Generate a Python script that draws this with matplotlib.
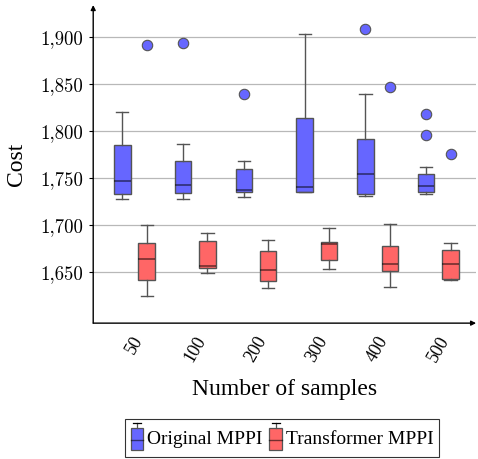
import matplotlib
matplotlib.use("Agg")
import matplotlib.pyplot as plt
from matplotlib.patches import Rectangle
from matplotlib.lines import Line2D
from matplotlib.legend_handler import HandlerBase
from matplotlib.ticker import FuncFormatter

# ---- data -------------------------------------------------------------
samples = ["50", "100", "200", "300", "400", "500"]

orig_whislo = [1728, 1728, 1730.5, 1735, 1731, 1733]
orig_q1 = [1733, 1734, 1735, 1735, 1733.5, 1735]
orig_med = [1747, 1743, 1737.5, 1740.5, 1755, 1742]
orig_q3 = [1785, 1768, 1760, 1814.5, 1792, 1754.5]
orig_whishi = [1820, 1786.5, 1768, 1903.5, 1839.5, 1762]

trans_whislo = [1624.5, 1649.5, 1633.5, 1653, 1634.5, 1642]
trans_q1 = [1642, 1654.5, 1641, 1663.5, 1651, 1643]
trans_med = [1664, 1657, 1652.5, 1680, 1658.5, 1659]
trans_q3 = [1681, 1683, 1672.5, 1682, 1678, 1674]
trans_whishi = [1700.5, 1691.5, 1684.5, 1697.5, 1701, 1681]

# outliers of the original MPPI runs: value, sample-group index, column (0 = left, 1 = right)
orig_outlier_values = [1892, 1893.5, 1839, 1909, 1847, 1818, 1795.5, 1776]
orig_outlier_group = [0, 1, 2, 4, 4, 5, 5, 5]
orig_outlier_column = [1, 0, 0, 0, 1, 0, 0, 1]

# ---- style ------------------------------------------------------------
blue_fill = "#6666ff"
red_fill = "#ff6666"
edge = (0.33, 0.33, 0.33)
serif = ["Liberation Serif", "DejaVu Serif"]

fig = plt.figure(figsize=(4.78, 4.59), dpi=100)
ax = fig.add_axes([0.195, 0.296, 0.801, 0.693])

offset = 0.2
box_w = 0.27
groups = list(range(1, len(samples) + 1))


def stats(lo, q1, med, q3, hi):
    return [dict(whislo=a, q1=b, med=c, q3=d, whishi=e)
            for a, b, c, d, e in zip(lo, q1, med, q3, hi)]


def draw(st, pos, fill):
    ax.bxp(st, positions=pos, widths=box_w, capwidths=0.2,
           patch_artist=True, showfliers=False,
           boxprops=dict(facecolor=fill, edgecolor=edge, linewidth=1.0),
           medianprops=dict(color=(0, 0, 0, 0.55), linewidth=1.2),
           whiskerprops=dict(color=edge, linewidth=1.0),
           capprops=dict(color=edge, linewidth=1.0),
           zorder=3)


draw(stats(orig_whislo, orig_q1, orig_med, orig_q3, orig_whishi),
     [g - offset for g in groups], blue_fill)
draw(stats(trans_whislo, trans_q1, trans_med, trans_q3, trans_whishi),
     [g + offset for g in groups], red_fill)

out_x = [groups[g] + (offset if c else -offset)
         for g, c in zip(orig_outlier_group, orig_outlier_column)]
ax.plot(out_x, orig_outlier_values, linestyle="none", marker="o",
        markersize=7.5, markerfacecolor=blue_fill, markeredgecolor=edge,
        markeredgewidth=0.8, zorder=4)

# ---- axes -------------------------------------------------------------
ax.set_xlim(0.32, 6.62)
ax.set_ylim(1596, 1934)
ax.set_yticks([1650, 1700, 1750, 1800, 1850, 1900])
ax.yaxis.set_major_formatter(FuncFormatter(lambda v, p: f"{int(v):,}"))
ax.set_xticks(groups)
ax.set_xticklabels(samples, rotation=60, family=serif, fontsize=13)
ax.tick_params(axis="x", length=0, pad=7)
ax.tick_params(axis="y", direction="out", length=3, width=0.8,
               labelsize=13.5, labelfontfamily="cmr10", pad=4)

ax.grid(axis="y", color="#b8b8b8", linewidth=0.9)
ax.set_axisbelow(True)
for s in ax.spines.values():
    s.set_visible(False)

# axis lines with arrow heads
arrow = dict(arrowstyle="-|>", color="black", lw=1.0, mutation_scale=7,
             shrinkA=0, shrinkB=0)
ax.annotate("", xy=(1.0, 0), xytext=(0, 0), xycoords="axes fraction",
            arrowprops=arrow, annotation_clip=False)
ax.annotate("", xy=(0, 1.0), xytext=(0, 0), xycoords="axes fraction",
            arrowprops=arrow, annotation_clip=False)

ax.set_xlabel("Number of samples", family=serif, fontsize=17, labelpad=10)
ax.set_ylabel("Cost", family=serif, fontsize=17, labelpad=10)


# ---- legend with small box-plot glyphs --------------------------------
class BoxGlyph(HandlerBase):
    def create_artists(self, legend, orig_handle, xdescent, ydescent,
                       width, height, fontsize, trans):
        fill = orig_handle.get_facecolor()
        cx = width / 2 - xdescent
        cy = height / 2 - ydescent
        bw = width * 0.9
        y0 = cy - fontsize * 0.6
        y1 = cy + fontsize * 0.5
        box = Rectangle((cx - bw / 2, y0), bw, y1 - y0, facecolor=fill,
                        edgecolor=edge, linewidth=0.9, transform=trans)
        med = Line2D([cx - bw / 2, cx + bw / 2], [cy - fontsize * 0.1] * 2,
                     color=(0, 0, 0, 0.55), linewidth=1.0, transform=trans)
        top = cy + fontsize * 0.8
        whisk = Line2D([cx, cx], [y1, top], color=edge, linewidth=0.9,
                       transform=trans)
        cap = Line2D([cx - bw * 0.32, cx + bw * 0.32], [top, top],
                     color="black", linewidth=0.9, transform=trans)
        return [box, med, whisk, cap]


h1 = Rectangle((0, 0), 1, 1, facecolor=blue_fill)
h2 = Rectangle((0, 0), 1, 1, facecolor=red_fill)
leg = fig.legend([h1, h2], ["Original MPPI", "Transformer MPPI"],
                 handler_map={Rectangle: BoxGlyph()},
                 loc="lower center", bbox_to_anchor=(0.59, 0.0), ncol=2,
                 prop=dict(family=serif, size=14), frameon=True,
                 fancybox=False, edgecolor="black", handlelength=0.7,
                 handleheight=1.85, handletextpad=0.2, columnspacing=0.3,
                 borderpad=0.25, borderaxespad=0.1)
leg.get_frame().set_linewidth(0.8)

fig.savefig("out.png", dpi=100)
